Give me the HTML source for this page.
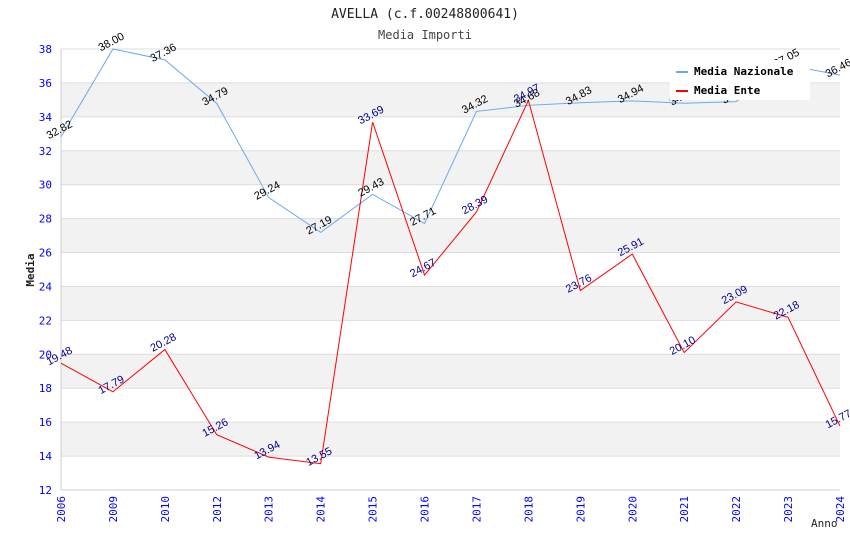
<!DOCTYPE html>
<html><head><meta charset="utf-8"><style>
body{margin:0;background:#fff}
svg{font-family:"DejaVu Sans Mono","Liberation Mono",monospace}
</style></head><body>
<svg id="chart" width="850" height="550">
<text x="425" y="18" text-anchor="middle" font-size="13" fill="#222">AVELLA (c.f.00248800641)</text>
<text x="425" y="39" text-anchor="middle" font-size="12" fill="#444">Media Importi</text>
<g id="bands"></g><g id="grid"></g><g id="axes"></g><g id="series"></g><g id="labels"></g>
<text x="34" y="270" transform="rotate(-90 34 270)" text-anchor="middle" font-size="11" font-weight="bold" fill="#222">Media</text>
<text x="811" y="527" font-size="11" fill="#222">Anno</text>
<g>
<rect x="670" y="60" width="140" height="40" fill="#fff"/>
<line x1="676" y1="72" x2="688" y2="72" stroke="#6aaaee" stroke-width="2"/>
<text x="694" y="75" font-size="11" font-weight="bold" fill="#000">Media Nazionale</text>
<line x1="676" y1="91" x2="688" y2="91" stroke="#f00" stroke-width="2"/>
<text x="694" y="94" font-size="11" font-weight="bold" fill="#000">Media Ente</text>
</g>
</svg>
<script>
const categories=["2006","2009","2010","2012","2013","2014","2015","2016","2017","2018","2019","2020","2021","2022","2023","2024"];
const nazionale=[32.82,38.00,37.36,34.79,29.24,27.19,29.43,27.71,34.32,34.68,34.83,34.94,34.80,34.90,37.05,36.46];
const ente=[19.48,17.79,20.28,15.26,13.94,13.55,33.69,24.67,28.39,34.97,23.76,25.91,20.10,23.09,22.18,15.77];
const yTicks=[12,14,16,18,20,22,24,26,28,30,32,34,36,38];
const NS="http://www.w3.org/2000/svg";
const L=61,R=840,T=49,B=490,yMin=12,yMax=38;
const x=i=>L+i*(R-L)/(categories.length-1);
const y=v=>B-(v-yMin)/(yMax-yMin)*(B-T);
function mk(tag,attrs,parent){const e=document.createElementNS(NS,tag);for(const k in attrs)e.setAttribute(k,attrs[k]);document.getElementById(parent).appendChild(e);return e;}
for(let i=0;i<yTicks.length-1;i++){
  if(i%2==1){const r=mk('rect',{x:L,y:y(yTicks[i+1]),width:R-L,height:y(yTicks[i])-y(yTicks[i+1]),fill:'#f2f2f2'},'bands');
  
  }
}
yTicks.forEach(t=>{
  const g=mk('line',{x1:L,x2:R,y1:y(t),y2:y(t),stroke:'#ddd'},'grid');
  
  
  const tx=mk('text',{x:L-9,y:y(t)+4,'text-anchor':'end','font-size':11,fill:'#00f'},'axes');
  tx.textContent=t;
  
  
});
mk('line',{x1:L,x2:L,y1:T,y2:B,stroke:'#ccc'},'axes');
mk('line',{x1:L,x2:R,y1:B,y2:B,stroke:'#ccc'},'axes');
categories.forEach((c,i)=>{
  const tx=mk('text',{x:x(i)+4,y:B+6,'text-anchor':'end','font-size':11,fill:'#00f',transform:`rotate(-90 ${x(i)+4} ${B+6})`},'axes');
  tx.textContent=c;
  
  
});
function series(vals,color,lblColor,name){
  const p=mk('polyline',{points:vals.map((v,i)=>x(i)+','+y(v)).join(' '),fill:'none',stroke:color,'stroke-width':1},'series');
  
  
  vals.forEach((v,i)=>{
    const px=x(i),py=y(v)-4;
    const t=mk('text',{x:px,y:py,'text-anchor':'middle','font-size':11,fill:lblColor,'font-family':'Liberation Sans, sans-serif',transform:`rotate(-28 ${px} ${py})`},'labels');
    t.textContent=v.toFixed(2);
    
    
  });
}
series(nazionale,'#6aaaee','#000','nazionale');
series(ente,'#f00','#00008b','ente');
</script>
</body></html>
